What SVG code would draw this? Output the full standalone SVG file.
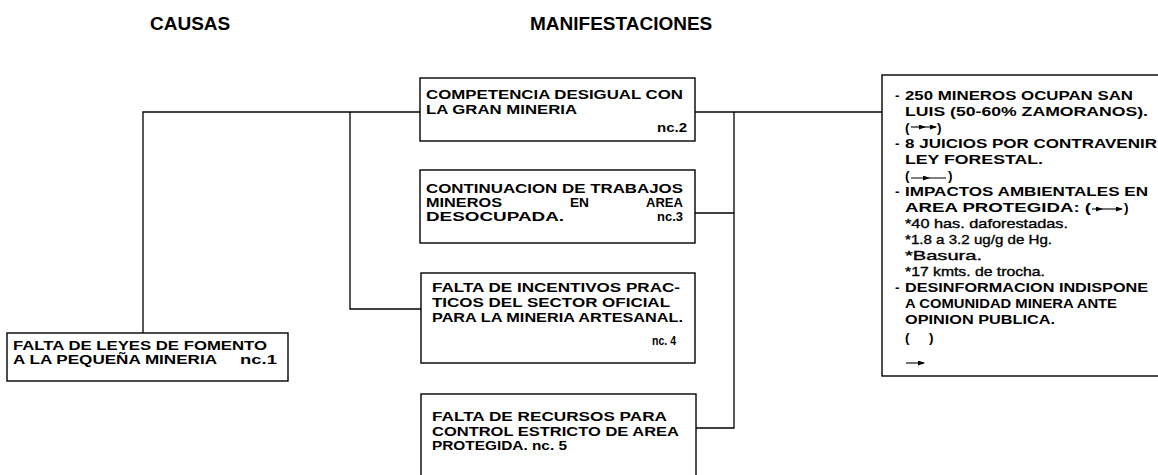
<svg xmlns="http://www.w3.org/2000/svg" width="1158" height="475" viewBox="0 0 1158 475">
<defs>
<marker id="ah" markerUnits="userSpaceOnUse" markerWidth="7" markerHeight="5" refX="6" refY="2.5" orient="auto"><path d="M0,0 L7,2.5 L0,5 Z" fill="#000"/></marker>
<style>
.box{fill:#fff;stroke:#000;stroke-width:1.4}
.con{fill:none;stroke:#000;stroke-width:1.3}
.t{font-family:"Liberation Sans",Arial,sans-serif;font-size:13.5px;font-weight:bold;fill:#000}
.s{font-family:"Liberation Sans",Arial,sans-serif;font-size:13px;font-weight:normal;fill:#000;stroke:#000;stroke-width:0.35}
.h{font-family:"Liberation Sans",Arial,sans-serif;font-size:19px;font-weight:bold;fill:#000}
.ar{fill:none;stroke:#000;stroke-width:1.1}
</style>
</defs>
<rect width="1158" height="475" fill="#fff"/>
<g id="titles">
<text class="h" x="150" y="30">CAUSAS</text>
<text class="h" x="530" y="30">MANIFESTACIONES</text>
</g>
<g id="connectors">
<path class="con" d="M143,333 V112 H420"/>
<path class="con" d="M350,112 V309 H421"/>
<path class="con" d="M695,112 H882"/>
<path class="con" d="M734,112 V428 H696"/>
<path class="con" d="M695,213 H734"/>
</g>
<g id="n1">
<rect class="box" x="7" y="333" width="281" height="48"/>
<text class="t" x="13" y="350" textLength="254" lengthAdjust="spacingAndGlyphs">FALTA DE LEYES DE FOMENTO</text>
<text class="t" x="13" y="364" textLength="204" lengthAdjust="spacingAndGlyphs">A LA PEQUEÑA  MINERIA</text>
<text class="t" x="240" y="364" textLength="37" lengthAdjust="spacingAndGlyphs">nc.1</text>
</g>
<g id="n2">
<rect class="box" x="420" y="78" width="275" height="63"/>
<text class="t" x="426" y="99" textLength="257" lengthAdjust="spacingAndGlyphs">COMPETENCIA DESIGUAL CON</text>
<text class="t" x="426" y="114" textLength="151" lengthAdjust="spacingAndGlyphs">LA GRAN MINERIA</text>
<text class="t" x="657" y="132" textLength="30" lengthAdjust="spacingAndGlyphs">nc.2</text>
</g>
<g id="n3">
<rect class="box" x="420" y="170" width="275" height="73"/>
<text class="t" x="426" y="193" textLength="257" lengthAdjust="spacingAndGlyphs">CONTINUACION DE TRABAJOS</text>
<text class="t" x="426" y="207" textLength="76" lengthAdjust="spacingAndGlyphs">MINEROS</text>
<text class="t" x="570" y="207" textLength="19" lengthAdjust="spacingAndGlyphs">EN</text>
<text class="t" x="646" y="207" textLength="37" lengthAdjust="spacingAndGlyphs">AREA</text>
<text class="t" x="426" y="221" textLength="138" lengthAdjust="spacingAndGlyphs">DESOCUPADA.</text>
<text class="t" x="657" y="221" textLength="26" lengthAdjust="spacingAndGlyphs">nc.3</text>
</g>
<g id="n4">
<rect class="box" x="421" y="273" width="274" height="90"/>
<text class="t" x="432" y="292" textLength="248" lengthAdjust="spacingAndGlyphs">FALTA DE INCENTIVOS PRAC-</text>
<text class="t" x="432" y="307" textLength="238" lengthAdjust="spacingAndGlyphs">TICOS DEL SECTOR OFICIAL</text>
<text class="t" x="432" y="322" textLength="251" lengthAdjust="spacingAndGlyphs">PARA LA MINERIA ARTESANAL.</text>
<text class="t" x="652" y="345" textLength="24" lengthAdjust="spacingAndGlyphs">nc. 4</text>
</g>
<g id="n5">
<rect class="box" x="421" y="394" width="275" height="90"/>
<text class="t" x="432" y="421" textLength="235" lengthAdjust="spacingAndGlyphs">FALTA DE RECURSOS PARA</text>
<text class="t" x="432" y="436" textLength="247" lengthAdjust="spacingAndGlyphs">CONTROL  ESTRICTO DE AREA</text>
<text class="t" x="432" y="450" textLength="135" lengthAdjust="spacingAndGlyphs">PROTEGIDA. nc. 5</text>
</g>
<g id="n6">
<rect class="box" x="882" y="75" width="290" height="301"/>
<text class="t" x="895" y="100">-</text>
<text class="t" x="905" y="100" textLength="228" lengthAdjust="spacingAndGlyphs">250 MINEROS OCUPAN SAN</text>
<text class="t" x="905" y="116" textLength="243" lengthAdjust="spacingAndGlyphs">LUIS (50-60% ZAMORANOS).</text>
<text class="t" x="905" y="132">(</text><text class="t" x="937" y="132">)</text>
<polyline class="ar" points="911,127 925,127 936,127" marker-mid="url(#ah)" marker-end="url(#ah)"/>
<text class="t" x="895" y="148">-</text>
<text class="t" x="905" y="148" textLength="252" lengthAdjust="spacingAndGlyphs">8 JUICIOS POR CONTRAVENIR</text>
<text class="t" x="905" y="164" textLength="138" lengthAdjust="spacingAndGlyphs">LEY FORESTAL.</text>
<text class="t" x="905" y="180">(</text><text class="t" x="948" y="180">)</text>
<polyline class="ar" points="911,178 929,178 946,178" marker-mid="url(#ah)"/>
<text class="t" x="895" y="196">-</text>
<text class="t" x="905" y="196" textLength="243" lengthAdjust="spacingAndGlyphs">IMPACTOS AMBIENTALES EN</text>
<text class="t" x="905" y="212" textLength="186" lengthAdjust="spacingAndGlyphs">AREA PROTEGIDA: (</text>
<text class="t" x="1124" y="212">)</text>
<polyline class="ar" points="1092,209 1102,209 1122,209" marker-mid="url(#ah)" marker-end="url(#ah)"/>
<text class="s" x="905" y="228" textLength="163" lengthAdjust="spacingAndGlyphs">*40 has. daforestadas.</text>
<text class="s" x="905" y="244" textLength="147" lengthAdjust="spacingAndGlyphs">*1.8 a 3.2 ug/g de Hg.</text>
<text class="s" x="905" y="260" textLength="77" lengthAdjust="spacingAndGlyphs">*Basura.</text>
<text class="s" x="905" y="276" textLength="140" lengthAdjust="spacingAndGlyphs">*17 kmts. de trocha.</text>
<text class="t" x="895" y="292">-</text>
<text class="t" x="905" y="292" textLength="243" lengthAdjust="spacingAndGlyphs">DESINFORMACION INDISPONE</text>
<text class="t" x="905" y="308" textLength="212" lengthAdjust="spacingAndGlyphs">A COMUNIDAD MINERA ANTE</text>
<text class="t" x="905" y="324" textLength="150" lengthAdjust="spacingAndGlyphs">OPINION PUBLICA.</text>
<text class="t" x="905" y="342">(</text><text class="t" x="929" y="342">)</text>
<line class="ar" x1="906" y1="363" x2="924" y2="363" marker-end="url(#ah)"/>
</g>
</svg>
